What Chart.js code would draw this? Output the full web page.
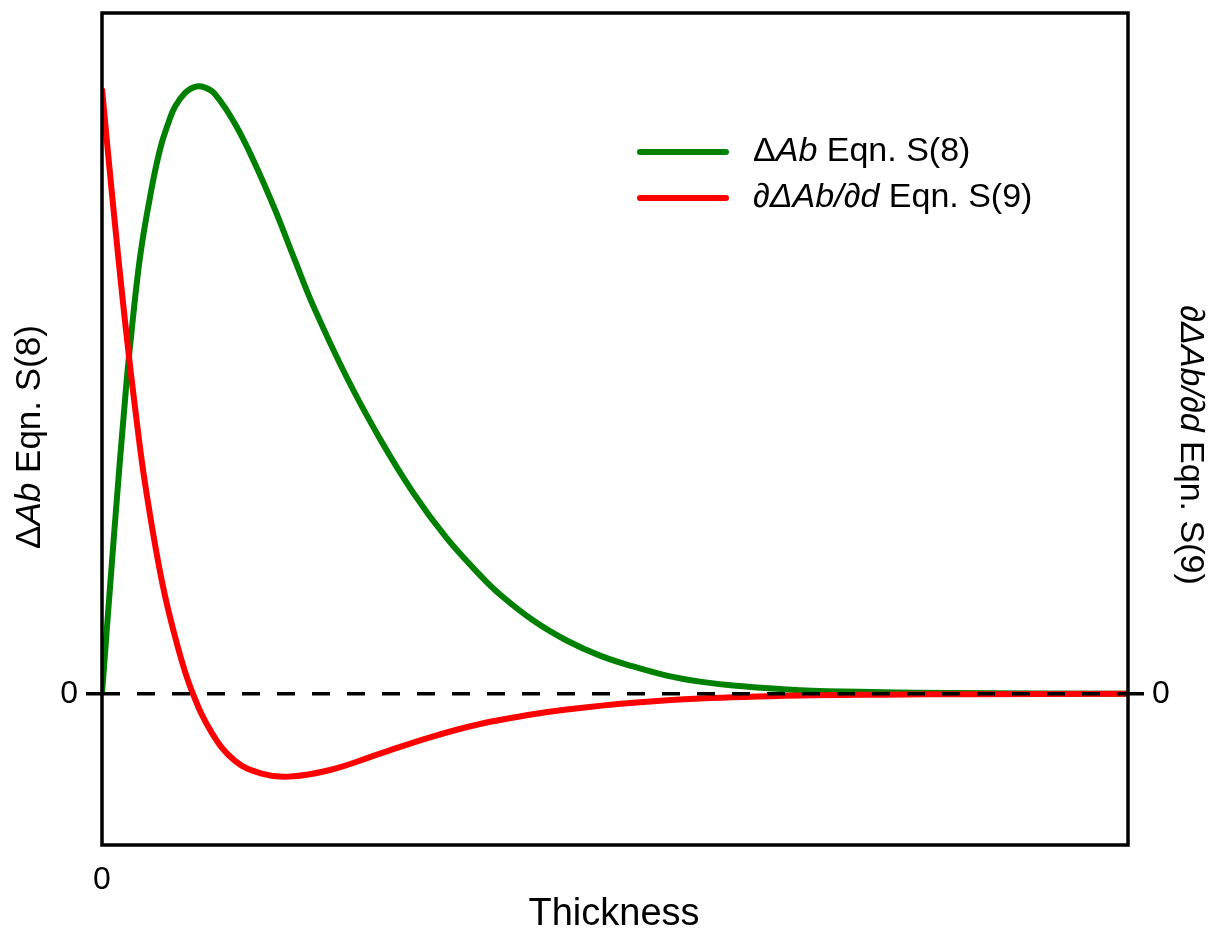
<!DOCTYPE html>
<html>
<head>
<meta charset="utf-8">
<script src="https://cdn.jsdelivr.net/npm/chart.js@4"></script>
<style>
  body { margin: 0; background: #fff; }
  canvas { display: block; }
</style>
</head>
<body>
<canvas id="grafico" width="1213" height="936"></canvas>
<script>
// Espesor (unidades arbitrarias) y curvas leídas
const espesorAb = [0, 0.117, 0.234, 0.3, 0.354, 0.4, 0.451, 0.52, 0.582, 0.65, 0.711, 0.81, 0.906, 1.0, 1.101, 1.296, 1.491, 1.686, 1.881, 2.059, 2.385, 2.71, 3.034, 3.36, 3.684, 3.879, 4.204, 4.529, 4.854, 5.178, 5.504, 5.828, 6.153, 6.803, 7.612, 8.265, 10];
const deltaAb = [0, 0.262, 0.505, 0.618, 0.700, 0.755, 0.805, 0.866, 0.910, 0.945, 0.970, 0.993, 1.003, 1.002, 0.991, 0.942, 0.876, 0.800, 0.716, 0.641, 0.523, 0.421, 0.332, 0.257, 0.196, 0.164, 0.121, 0.088, 0.063, 0.045, 0.030, 0.020, 0.0137, 0.0059, 0.0025, 0.001, 0];

const espesorDer = [0, 0.058, 0.127, 0.195, 0.253, 0.312, 0.419, 0.585, 0.741, 0.877, 1.072, 1.296, 1.557, 1.816, 2.222, 2.71, 3.197, 3.684, 4.2, 4.529, 5.178, 5.828, 6.803, 7.612, 8.5, 10];
const derivadaAb = [1.0, 0.895, 0.775, 0.662, 0.572, 0.487, 0.348, 0.185, 0.076, 0.004, -0.065, -0.111, -0.132, -0.137, -0.126, -0.099, -0.072, -0.050, -0.034, -0.026, -0.015, -0.008, -0.003, -0.0015, -0.0007, 0];

// Ticks: solo el cero en cada eje
const ticksX = [0];
const ticksY = [0];

const FUENTE = '"Liberation Sans", Arial, sans-serif';
const VERDE = '#008000';
const ROJO = '#ff0000';

const puntos = (xs, ys) => xs.map((x, i) => ({ x: x, y: ys[i] }));

// Texto con partes en cursiva (Δ*Ab*, ∂Δ*Ab*/∂*d*)
function textoMixto(ctx, partes, x, y, size, align) {
    let ancho = 0;
    partes.forEach(p => {
        ctx.font = (p.it ? 'italic ' : '') + size + 'px ' + FUENTE;
        ancho += ctx.measureText(p.t).width;
    });
    let cx = align === 'left' ? x : x - ancho / 2;
    ctx.textBaseline = 'middle';
    ctx.textAlign = 'left';
    partes.forEach(p => {
        ctx.font = (p.it ? 'italic ' : '') + size + 'px ' + FUENTE;
        ctx.fillText(p.t, cx, y);
        cx += ctx.measureText(p.t).width;
    });
}

const etiquetaAb = [{ t: 'Δ' }, { t: 'Ab', it: true }, { t: ' Eqn. S(8)' }];
const etiquetaDer = [{ t: '∂Δ', it: true }, { t: 'Ab', it: true }, { t: '/∂', it: true }, { t: 'd', it: true }, { t: ' Eqn. S(9)' }];

// Marco, línea de cero discontinua, leyenda y títulos de ejes
const decoracion = {
    id: 'decoracion',
    afterDatasetsDraw(chart) {
        const { ctx, chartArea: a } = chart;
        const y0 = chart.scales.y.getPixelForValue(0);

        ctx.save();
        ctx.strokeStyle = '#000';
        ctx.lineWidth = 3.5;
        ctx.setLineDash([18, 17]);
        ctx.beginPath();
        ctx.moveTo(a.left, y0);
        ctx.lineTo(a.right, y0);
        ctx.stroke();

        ctx.setLineDash([]);
        ctx.strokeRect(a.left, a.top, a.right - a.left, a.bottom - a.top);

        // leyenda
        ctx.lineWidth = 6;
        ctx.lineCap = 'round';
        [[VERDE, 152, etiquetaAb], [ROJO, 198, etiquetaDer]].forEach(([color, y, partes]) => {
            ctx.strokeStyle = color;
            ctx.beginPath();
            ctx.moveTo(640, y);
            ctx.lineTo(726, y);
            ctx.stroke();
            ctx.fillStyle = '#000';
            textoMixto(ctx, partes, 753, y, 34, 'left');
        });

        // títulos de ejes
        ctx.fillStyle = '#000';
        ctx.save();
        ctx.translate(30, 437);
        ctx.rotate(-Math.PI / 2);
        textoMixto(ctx, etiquetaAb, 0, 0, 35, 'center');
        ctx.restore();

        ctx.save();
        ctx.translate(1190, 445);
        ctx.rotate(Math.PI / 2);
        textoMixto(ctx, etiquetaDer, 0, 0, 34, 'center');
        ctx.restore();

        ctx.font = '38px ' + FUENTE;
        ctx.textAlign = 'center';
        ctx.textBaseline = 'middle';
        ctx.fillText('Thickness', 614, 915);
        ctx.restore();
    }
};

const ejeY = (posicion, ancho) => ({
    type: 'linear',
    position: posicion,
    min: -0.25,
    max: 1.125,
    afterBuildTicks: s => { s.ticks = ticksY.map(v => ({ value: v })); },
    afterFit: s => { s.width = ancho; s.paddingTop = 0; s.paddingBottom = 0; },
    border: { display: false },
    grid: { drawOnChartArea: false, drawTicks: true, tickLength: 16, tickWidth: 3.5, tickColor: '#000', color: '#000', lineWidth: 3.5 },
    ticks: { color: '#000', padding: 8, font: { family: FUENTE, size: 32 } }
});

new Chart(document.getElementById('grafico').getContext('2d'), {
    type: 'line',
    data: {
        datasets: [{
            label: 'ΔAb Eqn. S(8)',
            data: puntos(espesorAb, deltaAb),
            borderColor: VERDE,
            borderWidth: 6,
            pointRadius: 0,
            tension: 0.4,
            yAxisID: 'y',
            order: 1
        }, {
            label: '∂ΔAb/∂d Eqn. S(9)',
            data: puntos(espesorDer, derivadaAb),
            borderColor: ROJO,
            borderWidth: 6,
            pointRadius: 0,
            tension: 0.4,
            yAxisID: 'y2',
            order: 0
        }]
    },
    options: {
        responsive: false,
        animation: false,
        devicePixelRatio: 1,
        layout: { padding: { top: 13, left: 0, right: 0, bottom: 0 } },
        plugins: { legend: { display: false }, tooltip: { enabled: false } },
        scales: {
            x: {
                type: 'linear',
                min: 0,
                max: 10,
                afterBuildTicks: s => { s.ticks = ticksX.map(v => ({ value: v })); },
                afterFit: s => { s.height = 91; s.paddingLeft = 0; s.paddingRight = 0; },
                border: { display: false },
                grid: { display: false, drawTicks: false },
                ticks: { color: '#000', padding: 16, maxRotation: 0, font: { family: FUENTE, size: 32 } }
            },
            y: ejeY('left', 102),
            y2: ejeY('right', 85)
        }
    },
    plugins: [decoracion]
});
</script>
</body>
</html>
